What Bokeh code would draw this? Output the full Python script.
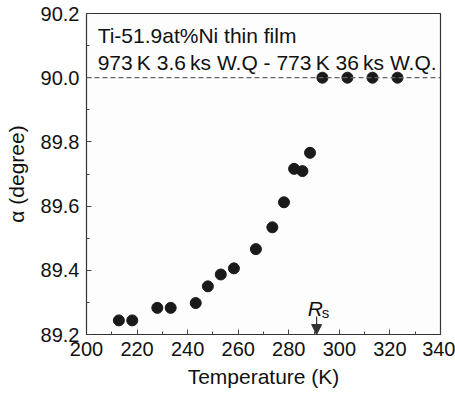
from bokeh.plotting import figure
from bokeh.models import (Range1d, Span, Label, Arrow, NormalHead, FixedTicker,
                          ColumnDataSource, PrintfTickFormatter)
from bokeh.embed import file_html
from bokeh.resources import INLINE

# Data
temperature_K = [212.8, 218.1, 228.0, 233.3, 243.2, 248.0, 253.1, 258.3, 267.0,
                 273.5, 278.1, 282.1, 285.4, 288.4, 293.3, 303.2, 313.1, 323.0]
alpha_deg = [89.244, 89.244, 89.283, 89.283, 89.298, 89.350, 89.387, 89.406, 89.466,
             89.534, 89.612, 89.716, 89.709, 89.766, 90.000, 90.000, 90.000, 90.000]
x_major = [200, 220, 240, 260, 280, 300, 320, 340]
x_minor = [210, 230, 250, 270, 290, 310, 330]
y_major = [89.2, 89.4, 89.6, 89.8, 90.0, 90.2]
y_minor = [89.3, 89.5, 89.7, 89.9, 90.1]
reference_alpha = 90.0
rs_temperature = 291.0
title_lines = ["Ti-51.9at%Ni thin film",
               "973\u2009K 3.6\u2009ks W.Q - 773\u2009K 36\u2009ks W.Q."]

FONT = "Liberation Sans"
TXT = "#111111"

p = figure(width=455, height=397, output_backend="svg", toolbar_location=None,
           x_range=Range1d(200, 340), y_range=Range1d(89.2, 90.2),
           min_border_left=86, min_border_right=15, min_border_top=13, min_border_bottom=63)

p.background_fill_color = "#fdfdfd"
p.border_fill_color = "white"
p.outline_line_color = "#333333"
p.outline_line_width = 1.2
p.grid.visible = False

p.xaxis.ticker = FixedTicker(ticks=x_major, minor_ticks=x_minor)
p.yaxis.ticker = FixedTicker(ticks=y_major, minor_ticks=y_minor)
p.yaxis.formatter = PrintfTickFormatter(format="%.1f")

for ax in (p.xaxis[0], p.yaxis[0]):
    ax.major_tick_in = 5
    ax.major_tick_out = 0
    ax.minor_tick_in = 3
    ax.minor_tick_out = 0
    ax.axis_line_color = "#333333"
    ax.major_tick_line_color = "#444444"
    ax.minor_tick_line_color = "#444444"
    ax.major_label_text_font = FONT
    ax.major_label_text_font_size = "20px"
    ax.major_label_text_color = TXT
    ax.axis_label_text_font = FONT
    ax.axis_label_text_font_size = "21px"
    ax.axis_label_text_font_style = "normal"
    ax.axis_label_text_color = TXT

p.xaxis.axis_label = "Temperature (K)"
p.xaxis.major_label_standoff = 7
p.xaxis.axis_label_standoff = 6
p.yaxis.axis_label = "\u03b1 (degree)"
p.yaxis.major_label_standoff = 7
p.yaxis.axis_label_standoff = 10

p.add_layout(Span(location=reference_alpha, dimension="width", line_color="#666666",
                  line_dash="5 3", line_width=1.2))

src = ColumnDataSource(dict(x=temperature_K, y=alpha_deg))
p.scatter("x", "y", source=src, size=11, fill_color="#1a1a1a", line_color="#1a1a1a")

p.add_layout(Label(x=204.4, y=90.131, text=title_lines[0], text_font=FONT,
                   text_font_size="21px", text_color=TXT, text_baseline="alphabetic"))
p.add_layout(Label(x=204.4, y=90.047, text=title_lines[1], text_font=FONT,
                   text_font_size="21px", text_color=TXT, text_baseline="alphabetic"))

p.add_layout(Label(x=287.5, y=89.281, text="R", text_font=FONT, text_font_size="21px",
                   text_font_style="italic", text_color=TXT, text_baseline="alphabetic"))
p.add_layout(Label(x=293.0, y=89.269, text="s", text_font=FONT, text_font_size="15px",
                   text_color=TXT, text_baseline="alphabetic"))
p.add_layout(Arrow(x_start=rs_temperature, y_start=89.256, x_end=rs_temperature, y_end=89.2,
                   line_color="#333333", line_width=1.2,
                   end=NormalHead(size=10, fill_color="#333333", line_color="#333333")))

open("out.html", "w").write(file_html(p, INLINE))
